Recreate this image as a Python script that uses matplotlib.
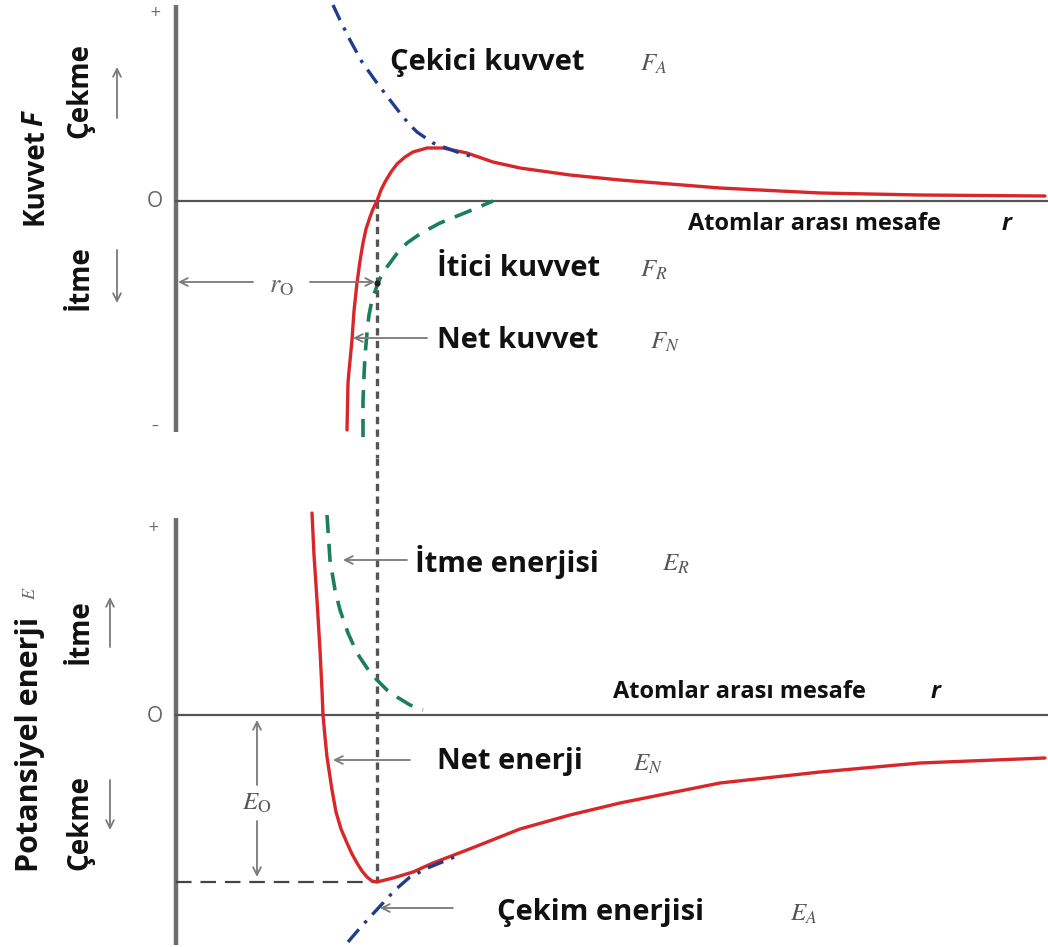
import matplotlib
matplotlib.use('Agg')
from matplotlib import pyplot as plt

# Force / potential energy vs interatomic distance.
# r = distance from the vertical axis, F / E = height above the zero line
# (arbitrary diagram units)

# --- top panel: forces ---
r_net_f = [171, 171.5, 172, 173, 174, 176, 178, 181, 184, 187, 190, 194, 197, 201, 205, 209,
           215, 221, 229, 237, 251, 267, 291, 317, 344, 394, 444, 544, 644, 744, 869]
f_net = [-229, -205, -182, -170, -160, -139, -110, -82, -60, -42, -28, -16, -8, 0, 11, 19,
         29, 37, 44, 49, 53, 53, 48, 39, 33, 26, 21, 13, 8, 6, 5]

r_att_f = [157, 164, 174, 186, 201, 214, 224, 233, 241, 257, 281, 294]
f_att = [196, 181, 161, 139, 118, 101, 88, 77, 69, 58, 49, 45]

r_rep_f = [187, 187, 188, 189, 191, 193, 196, 202, 207, 214, 222, 231, 241, 251, 264, 291, 317]
f_rep = [-236, -200, -175, -155, -132, -114, -99, -82, -71, -62, -51, -42, -35, -29, -22, -11, 0]

# --- bottom panel: energies ---
r_net_e = [136, 138, 141, 144, 146, 147, 149, 151, 156, 160, 165, 171, 176, 181, 186, 191,
           196, 201, 217, 237, 257, 291, 344, 394, 444, 544, 644, 744, 869]
e_net = [202, 160, 115, 65, 25, 0, -22, -42, -75, -97, -114, -128, -139, -148, -156, -162,
         -166, -167, -163, -157, -148, -135, -114, -100, -88, -68, -57, -48, -43]

r_rep_e = [151, 154, 159, 164, 172, 181, 191, 201, 211, 221, 234, 247]
e_rep = [200, 155, 125, 105, 82, 62, 47, 35, 25, 18, 10, 5]

r_att_e = [172, 184, 194, 207, 219, 234, 254, 281]
e_att = [-227, -213, -202, -188, -175, -162, -152, -141]

r0 = 201
e0 = -167

RED = '#d8262b'
BLUE = '#1f3d8c'
GREEN = '#1b7f5e'
AXC = '#6e6e6e'
ARC = '#7a7a7a'
FONT = 'Open Sans'

plt.rcParams['mathtext.fontset'] = 'stix'

fig = plt.figure(figsize=(10.48, 9.47), dpi=100)
ax1 = fig.add_axes([0, 1 - 458 / 947, 1, 458 / 947])
ax2 = fig.add_axes([0, 0, 1, 489 / 947])
ax1.set_xlim(-176, 872)
ax1.set_ylim(-257, 201)
ax2.set_xlim(-176, 872)
ax2.set_ylim(-232, 257)
for ax in (ax1, ax2):
    ax.axis('off')


def label(ax, x, y, txt, sym, xs, size=21):
    ax.text(x, y, txt, fontsize=size, fontweight='bold', family=FONT,
            ha='left', va='center', color='#111')
    ax.text(xs, y - 2, sym, fontsize=18, ha='left', va='center', color='#555')


def vlabel(ax, x, y, txt, size=20):
    ax.text(x, y, txt, fontsize=size, fontweight='bold', family=FONT,
            rotation=90, ha='center', va='center', color='#111')


def arrow(ax, xy, xytext, style='->'):
    ax.annotate('', xy=xy, xytext=xytext,
                arrowprops=dict(arrowstyle=style, color=ARC, lw=1.3,
                                shrinkA=0, shrinkB=0, mutation_scale=14))


# ---------------- top panel ----------------
ax1.plot([0, 0], [196, -231], color=AXC, lw=3.2, solid_capstyle='butt')
ax1.plot([0, 872], [0, 0], color='#555', lw=1.6)
ax1.text(-21, 189, '+', fontsize=10, color='#666', ha='center', va='center')
ax1.text(-21, -226, '–', fontsize=10, color='#666', ha='center', va='center')
ax1.text(-21, 0, 'O', fontsize=15, color='#666', ha='center', va='center', family=FONT)

ax1.plot([r0, r0], [0, -257], color='#555', lw=2.4, ls=(0, (2.2, 1.6)))
ax1.plot(r_net_f, f_net, color=RED, lw=2.4, solid_capstyle='round')
ax1.plot(r_rep_f, f_rep, color=GREEN, lw=2.6, ls=(0, (5, 3)))
ax1.plot(r_att_f, f_att, color=BLUE, lw=2.4, ls=(0, (5, 2.5, 1, 2.5)))

# r0 dimension
arrow(ax1, (2, -81), (77, -81))
arrow(ax1, (199, -81), (134, -81))
ax1.text(106, -84, r'$r_{\mathrm{O}}$', fontsize=19, color='#666', ha='center', va='center')
ax1.plot([r0], [-82], 'o', color='#222', ms=3.5)
arrow(ax1, (177, -137), (251, -137))

label(ax1, 214, 139, 'Çekici kuvvet', r'$F_A$', 464)
label(ax1, 261, -67, 'İtici kuvvet', r'$F_R$', 464)
label(ax1, 261, -139, 'Net kuvvet', r'$F_N$', 474)
ax1.text(512, -23, 'Atomlar arası mesafe', fontsize=17, fontweight='bold',
         family=FONT, ha='left', va='center', color='#111')
ax1.text(826, -23, 'r', fontsize=17, fontweight='bold', style='italic',
         family=FONT, ha='left', va='center', color='#111')

vlabel(ax1, -141, 24, 'Kuvvet')
ax1.text(-141, 82, 'F', fontsize=20, fontweight='bold', style='italic', family=FONT,
         rotation=90, ha='center', va='center', color='#111')
vlabel(ax1, -96, 111, 'Çekme')
vlabel(ax1, -96, -77, 'İtme')
arrow(ax1, (-59, 134), (-59, 83))
arrow(ax1, (-59, -102), (-59, -49))

# ---------------- bottom panel ----------------
ax2.plot([0, 0], [197, -230], color=AXC, lw=3.2, solid_capstyle='butt')
ax2.plot([0, 872], [0, 0], color='#555', lw=1.6)
ax2.text(-23, 188, '+', fontsize=10, color='#666', ha='center', va='center')
ax2.text(-21, -2, 'O', fontsize=15, color='#666', ha='center', va='center', family=FONT)

ax2.plot([r0, r0], [257, e0], color='#555', lw=2.4, ls=(0, (2.2, 1.6)))
ax2.plot([0, r0], [e0, e0], color='#444', lw=1.6, ls=(0, (7, 4)))
ax2.plot(r_net_e, e_net, color=RED, lw=2.4, solid_capstyle='round')
ax2.plot(r_rep_e, e_rep, color=GREEN, lw=2.6, ls=(0, (5, 3)))
ax2.plot(r_att_e, e_att, color=BLUE, lw=2.4, ls=(0, (5, 2.5, 1, 2.5)))

# E0 dimension
arrow(ax2, (81, -5), (81, -70))
arrow(ax2, (81, -162), (81, -106))
ax2.text(81, -88, r'$E_{\mathrm{O}}$', fontsize=18, color='#555', ha='center', va='center')

arrow(ax2, (167, 155), (231, 155))
arrow(ax2, (157, -45), (234, -45))
arrow(ax2, (204, -193), (277, -193))

label(ax2, 239, 153, 'İtme enerjisi', r'$E_R$', 486)
label(ax2, 261, -47, 'Net enerji', r'$E_N$', 457)
label(ax2, 321, -197, 'Çekim enerjisi', r'$E_A$', 614)
ax2.text(437, 23, 'Atomlar arası mesafe', fontsize=17, fontweight='bold',
         family=FONT, ha='left', va='center', color='#111')
ax2.text(755, 23, 'r', fontsize=17, fontweight='bold', style='italic',
         family=FONT, ha='left', va='center', color='#111')

vlabel(ax2, -146, -29, 'Potansiyel enerji', size=22)
ax2.text(-146, 122, r'$E$', fontsize=13, rotation=90, ha='center', va='center', color='#666')
vlabel(ax2, -96, 83, 'İtme')
vlabel(ax2, -96, -107, 'Çekme')
arrow(ax2, (-66, 118), (-66, 68))
arrow(ax2, (-66, -115), (-66, -65))

fig.savefig('out.png', dpi=100, facecolor='white')
